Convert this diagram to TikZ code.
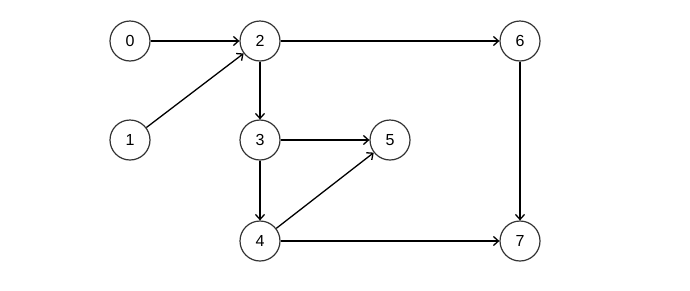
\documentclass[tikz,border=0pt]{standalone}
\usepackage{fontspec}
\setmainfont{Liberation Sans}
\usetikzlibrary{arrows.meta}
\begin{document}
\begin{tikzpicture}[x=1pt,y=-1pt,
  vtx/.style={circle,draw=black!80,line width=1.2pt,fill=white,minimum size=40pt,inner sep=0pt,font=\fontsize{16}{16}\selectfont},
  edge/.style={line width=1.3pt,-{Straight Barb[length=5pt,width=9pt,line width=1.3pt]}}]
\useasboundingbox (0,0) rectangle (690,290);
\node[vtx] (n0) at (130,41) {0};
\node[vtx] (n2) at (260,41) {2};
\node[vtx] (n6) at (520,41) {6};
\node[vtx] (n1) at (130,140) {1};
\node[vtx] (n3) at (260,140) {3};
\node[vtx] (n5) at (390,140) {5};
\node[vtx] (n4) at (260,241) {4};
\node[vtx] (n7) at (520,241) {7};
\draw[edge] (n0) -- (n2);
\draw[edge] (n1) -- (n2);
\draw[edge] (n2) -- (n6);
\draw[edge] (n2) -- (n3);
\draw[edge] (n3) -- (n5);
\draw[edge] (n3) -- (n4);
\draw[edge] (n4) -- (n5);
\draw[edge] (n4) -- (n7);
\draw[edge] (n6) -- (n7);
\end{tikzpicture}
\end{document}
